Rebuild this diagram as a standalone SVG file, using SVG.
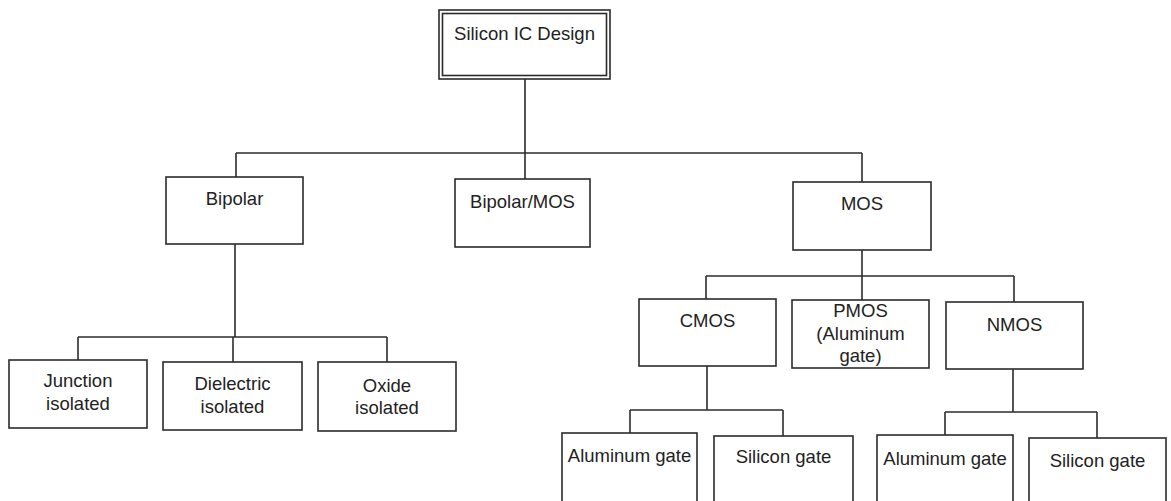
<svg xmlns="http://www.w3.org/2000/svg" width="1171" height="501" viewBox="0 0 1171 501">
<style>
.box{fill:#fff;stroke:#2b2b2b;stroke-width:1.6}
.con line{stroke:#2b2b2b;stroke-width:1.6;fill:none}
text{font-family:"Liberation Sans",Arial,sans-serif;font-size:18.5px;fill:#222;text-anchor:middle}
</style>
<rect width="1171" height="501" fill="#fff"/>
<g id="connectors" class="con">
<line x1="525" y1="79" x2="525" y2="179"/>
<line x1="236" y1="153" x2="862" y2="153"/>
<line x1="236" y1="153" x2="236" y2="177"/>
<line x1="862" y1="153" x2="862" y2="182"/>
<line x1="235" y1="244" x2="235" y2="337"/>
<line x1="78" y1="337" x2="387" y2="337"/>
<line x1="78" y1="337" x2="78" y2="360"/>
<line x1="233" y1="337" x2="233" y2="362"/>
<line x1="387" y1="337" x2="387" y2="362"/>
<line x1="862" y1="250" x2="862" y2="276"/>
<line x1="706" y1="276" x2="1014" y2="276"/>
<line x1="706" y1="276" x2="706" y2="299"/>
<line x1="862" y1="276" x2="862" y2="300"/>
<line x1="1014" y1="276" x2="1014" y2="302"/>
<line x1="707" y1="366" x2="707" y2="410"/>
<line x1="630" y1="410" x2="783" y2="410"/>
<line x1="630" y1="410" x2="630" y2="433"/>
<line x1="783" y1="410" x2="783" y2="436"/>
<line x1="1013" y1="369" x2="1013" y2="412"/>
<line x1="945" y1="412" x2="1097" y2="412"/>
<line x1="945" y1="412" x2="945" y2="435"/>
<line x1="1097" y1="412" x2="1097" y2="438"/>
</g>
<g id="silicon-ic-design">
<rect class="box" x="439" y="10" width="171" height="69"/>
<rect class="box" x="442.5" y="13.5" width="164" height="62"/>
<text x="524.5" y="40">Silicon IC Design</text>
</g>
<g id="bipolar">
<rect class="box" x="166" y="177" width="137" height="67"/>
<text x="234.5" y="205">Bipolar</text>
</g>
<g id="bipolar-mos">
<rect class="box" x="455" y="179" width="135" height="68"/>
<text x="522.5" y="208">Bipolar/MOS</text>
</g>
<g id="mos">
<rect class="box" x="793" y="182" width="138" height="68"/>
<text x="862" y="210">MOS</text>
</g>
<g id="junction">
<rect class="box" x="9" y="360" width="138" height="68"/>
<text x="78" y="387">Junction</text>
<text x="78" y="410">isolated</text>
</g>
<g id="dielectric">
<rect class="box" x="163" y="362" width="139" height="68"/>
<text x="232.5" y="390">Dielectric</text>
<text x="232.5" y="413">isolated</text>
</g>
<g id="oxide">
<rect class="box" x="318" y="362" width="138" height="69"/>
<text x="387" y="392">Oxide</text>
<text x="387" y="414">isolated</text>
</g>
<g id="cmos">
<rect class="box" x="639" y="299" width="137" height="67"/>
<text x="707.5" y="327">CMOS</text>
</g>
<g id="pmos">
<rect class="box" x="792" y="300" width="137" height="68"/>
<text x="860.5" y="317">PMOS</text>
<text x="860.5" y="340">(Aluminum</text>
<text x="860.5" y="362">gate)</text>
</g>
<g id="nmos">
<rect class="box" x="946" y="302" width="137" height="67"/>
<text x="1014.5" y="331">NMOS</text>
</g>
<g id="cmos-aluminum-gate">
<rect class="box" x="562" y="433" width="135" height="75"/>
<text x="629.5" y="462">Aluminum gate</text>
</g>
<g id="cmos-silicon-gate">
<rect class="box" x="714" y="436" width="139" height="75"/>
<text x="783.5" y="463">Silicon gate</text>
</g>
<g id="nmos-aluminum-gate">
<rect class="box" x="877" y="435" width="136" height="75"/>
<text x="945" y="465">Aluminum gate</text>
</g>
<g id="nmos-silicon-gate">
<rect class="box" x="1029" y="438" width="137" height="75"/>
<text x="1097.5" y="467">Silicon gate</text>
</g>
</svg>
